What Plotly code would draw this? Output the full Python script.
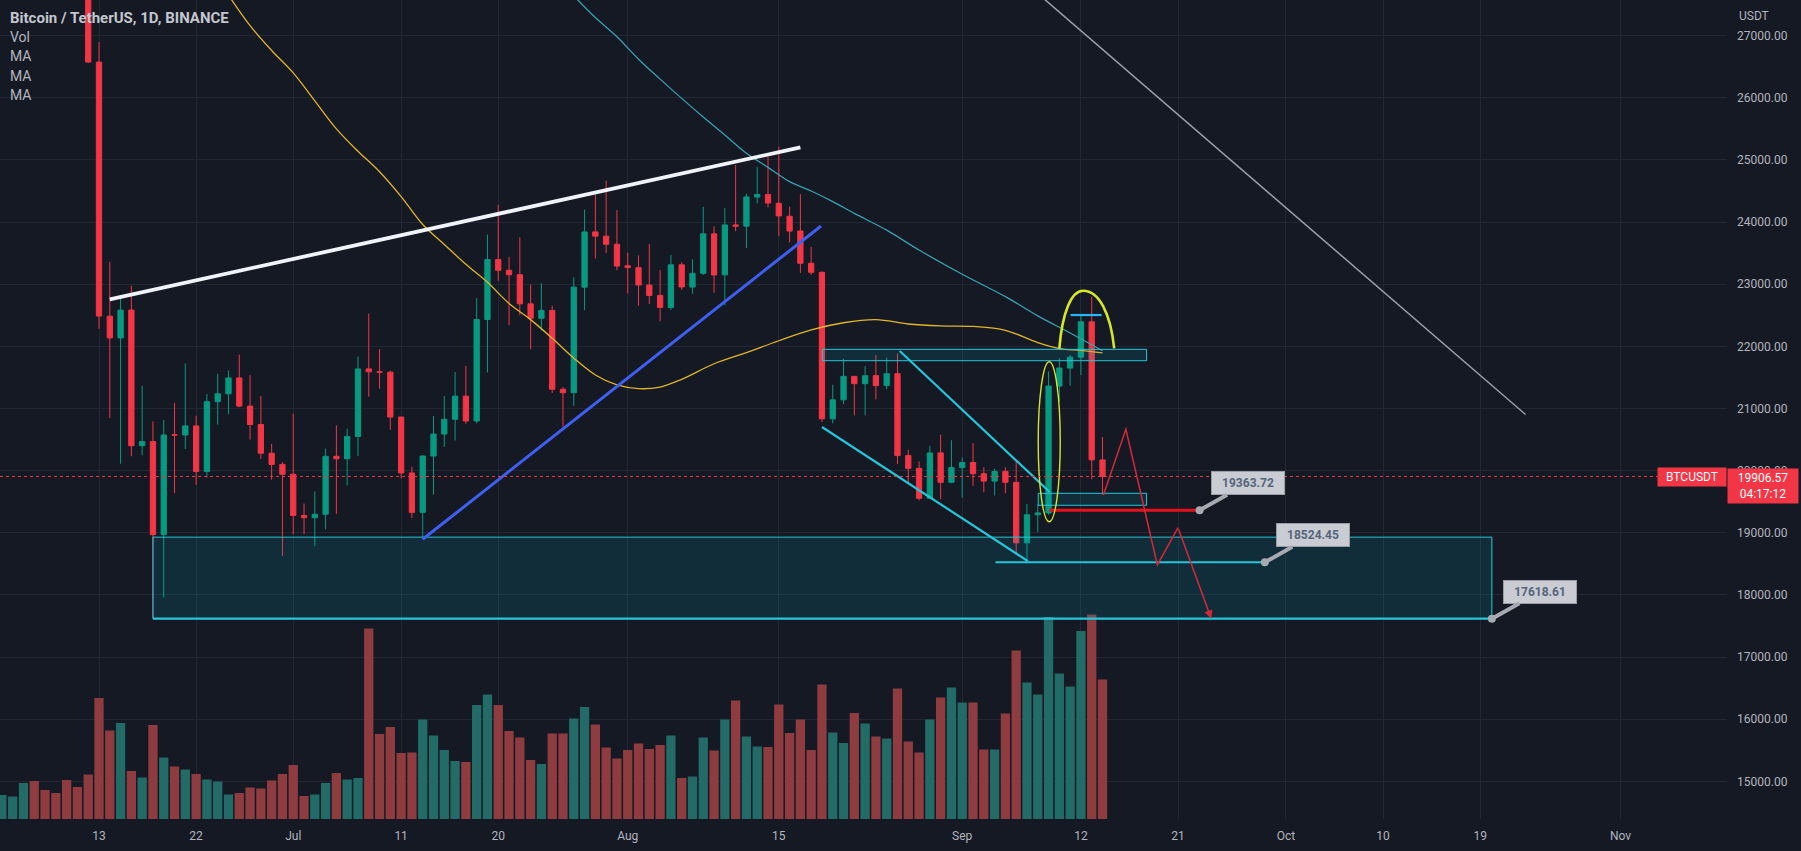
import pandas as pd
import plotly.graph_objects as go

# ---- daily candles (BTCUSDT, Binance) ----
candle_dates = pd.date_range("2022-06-12", "2022-09-14", freq="D")
opens = [28402, 26574, 22485, 22136, 22584, 20401, 20468, 18970, 20574, 20573, 20720, 19987, 21110, 21237, 21492,
         21039, 20743, 20281, 20101,
         19942, 19279, 19243, 19298, 20231, 20191, 20549, 21637, 21590, 21585, 20862, 19963, 19329, 20235, 20589,
         20826, 21198, 20799, 22432, 23396, 23224, 23153, 22684, 22451, 22578, 21310, 21254, 22952, 23842, 23773,
         23643,
         23297, 23266, 22986, 22819, 22626, 23312, 22954, 23175, 23810, 23151, 23954, 23934, 24402, 24442, 24302,
         24093, 23856, 23337, 23191, 20834, 21140, 21517, 21400, 21529, 21369, 21560, 20242, 20037, 19555, 20286,
         19813,
         20049, 20131, 19951, 19832, 19988, 19813, 18838, 19290, 19320, 21361, 21651, 21826, 22395, 20173]
highs = [28572, 26895, 23362, 22800, 22975, 21365, 20792, 20815, 21090, 21723, 20883, 21233, 21558, 21614, 21868,
         21539, 21200, 20432, 20141,
         20918, 19471, 19664, 20354, 20729, 20675, 21839, 22527, 21954, 21607, 20868, 20063, 20250, 20880, 21200,
         21588, 21684, 22777, 23800, 24276, 23442, 23757, 22998, 23014, 22654, 21347, 23113, 24199, 24442, 24668,
         24194,
         23509, 23463, 23647, 23229, 23472, 23354, 23400, 24245, 23933, 24226, 24918, 24456, 24888, 25047, 25211,
         24247, 24447, 23602, 23208, 21382, 21800, 21520, 21684, 21859, 21819, 21886, 20338, 20150, 20400, 20580,
         20490,
         20208, 20444, 20055, 20029, 20055, 20180, 19464, 19459, 21597, 21811, 21861, 22488, 22800, 20541]
lows = [26560, 22283, 20846, 20111, 20232, 20246, 17622, 17960, 19637, 20348, 19770, 19890, 20740, 20906, 21021,
        20500, 20187, 19854, 18626,
        18975, 18978, 18782, 19055, 19305, 19763, 20237, 21189, 21319, 20655, 19875, 19240, 18910, 19616, 20383,
        20484, 20754, 20762, 21581, 23052, 22341, 22500, 21951, 22258, 21250, 20706, 21042, 22582, 23414, 23502,
        23227,
        22850, 22654, 22681, 22400, 22587, 22909, 22844, 23150, 22865, 22664, 23853, 23583, 24296, 24235, 23773,
        23671, 23180, 23150, 20783, 20762, 21069, 20890, 20890, 21145, 21310, 20107, 19800, 19520, 19550, 19540,
        19797,
        19565, 19754, 19652, 19600, 19636, 18654, 18525, 19012, 19291, 21111, 21367, 21538, 19860, 19618]
closes = [26574, 22487, 22136, 22583, 20401, 20468, 18970, 20574, 20573, 20720, 19987, 21110, 21237, 21492, 21039,
          20743, 20281, 20101, 19942,
          19279, 19243, 19298, 20231, 20191, 20549, 21637, 21590, 21585, 20862, 19963, 19329, 20235, 20589, 20826,
          21198, 20799, 22432, 23396, 23224, 23153, 22684, 22451, 22579, 21310, 21254, 22952, 23842, 23773, 23643,
          23293,
          23268, 22987, 22819, 22626, 23312, 22955, 23175, 23810, 23149, 23954, 23934, 24403, 24442, 24306, 24099,
          23855, 23337, 23191, 20834, 21140, 21517, 21400, 21528, 21368, 21560, 20242, 20037, 19555, 20285, 19812,
          20050,
          20131, 19951, 19832, 19987, 19813, 18838, 19290, 19320, 21361, 21651, 21826, 22395, 20173, 19906.57]

# ---- volume (thousand BTC); the first eight candles sit above the visible price range ----
vol_dates = pd.date_range("2022-06-04", "2022-09-14", freq="D")
volumes = [48, 45, 72, 76, 58, 52, 78, 64,
           89, 242, 177, 192, 96, 83, 188, 123, 105, 99, 90, 79, 75, 49, 52, 63, 61, 77, 90,
           108, 46, 49, 72, 92, 79, 82, 381, 170, 184, 132, 133, 199, 167, 138, 116, 114, 228, 249, 228, 176, 163,
           118, 110, 171, 171, 201, 224, 189, 143, 121,
           138, 151, 140, 148, 167, 82, 85, 163, 137, 199, 237, 165, 145, 144, 229, 172, 199, 138, 269, 173, 152,
           212, 191, 165, 161, 261, 155, 133, 199, 243, 263,
           233, 233, 139, 139, 211, 337, 273, 249, 404, 291, 265, 376, 409, 279]
early_vol_up = [True, True, True, False, False, False, False, False]

# ---- moving averages ----
ma_fast_dates = ["2022-06-25", "2022-06-27", "2022-06-29", "2022-07-01", "2022-07-03", "2022-07-05", "2022-07-07",
                 "2022-07-09", "2022-07-11", "2022-07-13", "2022-07-15", "2022-07-17", "2022-07-19", "2022-07-21",
                 "2022-07-23", "2022-07-25", "2022-07-27", "2022-07-29", "2022-07-31", "2022-08-02", "2022-08-04",
                 "2022-08-06", "2022-08-09", "2022-08-12", "2022-08-15", "2022-08-18", "2022-08-21", "2022-08-24",
                 "2022-08-27", "2022-08-30", "2022-09-02", "2022-09-05", "2022-09-08", "2022-09-10", "2022-09-12",
                 "2022-09-14"]
ma_fast = [27650, 27160, 26760, 26400, 25950, 25500, 25140, 24810, 24410, 23960, 23640, 23320, 23030, 22690, 22430,
           22130, 21810, 21540, 21380, 21320, 21345, 21470, 21720, 21900, 22090, 22265, 22380, 22430, 22360, 22330,
           22320, 22259, 22060, 21965, 21935, 21894]
ma_slow_dates = ["2022-07-27", "2022-07-29", "2022-07-31", "2022-08-02", "2022-08-04", "2022-08-06", "2022-08-08",
                 "2022-08-10", "2022-08-12", "2022-08-14", "2022-08-16", "2022-08-18", "2022-08-20", "2022-08-22",
                 "2022-08-25", "2022-08-28", "2022-09-01", "2022-09-05", "2022-09-08", "2022-09-11", "2022-09-14"]
ma_slow = [27640, 27290, 26982, 26620, 26300, 25990, 25690, 25400, 25106, 24880, 24650, 24500, 24330, 24140, 23870,
           23550, 23160, 22800, 22490, 22215, 21930]

# ---- axis ticks ----
x_tick_dates = ["2022-06-13", "2022-06-22", "2022-07-01", "2022-07-11", "2022-07-20", "2022-08-01", "2022-08-15",
                "2022-09-01", "2022-09-12", "2022-09-21", "2022-10-01", "2022-10-10", "2022-10-19", "2022-11-01"]
x_tick_text = ["13", "22", "Jul", "11", "20", "Aug", "15", "Sep", "12", "21", "Oct", "10", "19", "Nov"]

# ---- drawings: (dates, prices) ----
top_trend = (["2022-06-14 00:00", "2022-08-17 00:00"], [22757, 25201])
rising_trend = (["2022-07-13 00:00", "2022-08-18 22:00"], [18896, 23937])
wedge_top = (["2022-08-26 05:00", "2022-09-09 02:00"], [21926, 19660])
wedge_bottom = (["2022-08-19 00:00", "2022-09-07 02:00"], [20702, 18545])
falling_trend = (["2022-09-01 00:00", "2022-10-23 05:00"], [28727, 20903])
zone_big = (["2022-06-18 00:00", "2022-10-20 02:00"], [17618.61, 18930])
zone_upper = (["2022-08-19 01:00", "2022-09-18 02:00"], [21769, 21952])
zone_lower = (["2022-09-08 01:00", "2022-09-18 02:00"], [19443, 19636])
level_red = (["2022-09-09 02:00", "2022-09-23 00:00"], 19363.72)
level_low = (["2022-09-04 02:00", "2022-09-29 01:00"], 18524.45)
level_base = (["2022-06-18 00:00", "2022-10-20 02:00"], 17618.61)
level_top = (["2022-09-11 01:00", "2022-09-13 22:00"], 22504)
ellipse_box = (["2022-09-08 01:00", "2022-09-10 02:00"], [19178, 21753])
arc_pts = (["2022-09-10 00:00", "2022-09-12 05:00", "2022-09-15 02:00"], [21968, 22895, 21968])
zigzag = (["2022-09-14 02:00", "2022-09-16 04:00", "2022-09-19 02:00", "2022-09-21 00:00", "2022-09-24 02:00"],
          [19608, 20665, 18484, 19082, 17618])
callouts = [("19363.72", "2022-09-23 00:00", 19363.72),
            ("18524.45", "2022-09-29 01:00", 18524.45),
            ("17618.61", "2022-10-20 02:00", 17618.61)]
last_price = 19906.57
countdown = "04:17:12"

BG = "#151924"
GRID = "#232733"
TXT = "#b2b5be"
UP = "#089981"
DOWN = "#f23645"
CYAN = "#26c6da"
LIME = "#d4e825"
FONT = "Roboto, Liberation Sans, sans-serif"
DAY_MS = 86400000

vol_up = early_vol_up + [c >= o for o, c in zip(opens, closes)]
vol_colors = ["#226b66" if u else "#8f3c41" for u in vol_up]

fig = go.Figure()
fig.add_trace(go.Bar(
    x=vol_dates, y=volumes, yaxis="y2", width=0.86 * DAY_MS,
    marker=dict(color=vol_colors, line=dict(width=0)), hoverinfo="skip", showlegend=False,
))
fig.add_trace(go.Candlestick(
    x=candle_dates, open=opens, high=highs, low=lows, close=closes,
    increasing=dict(line=dict(color=UP, width=1), fillcolor=UP),
    decreasing=dict(line=dict(color=DOWN, width=1), fillcolor=DOWN),
    whiskerwidth=0, hoverinfo="skip", showlegend=False,
))
fig.add_trace(go.Scatter(x=ma_fast_dates, y=ma_fast, mode="lines", line=dict(color="#e0b52a", width=1.3, shape="spline"),
                         hoverinfo="skip", showlegend=False))
fig.add_trace(go.Scatter(x=ma_slow_dates, y=ma_slow, mode="lines", line=dict(color="#37a2ad", width=1.3, shape="spline"),
                         hoverinfo="skip", showlegend=False))


def seg(pts, color, width, dash="solid"):
    (xa, xb), (ya, yb) = pts
    return dict(type="line", xref="x", yref="y", x0=xa, x1=xb, y0=ya, y1=yb,
                line=dict(color=color, width=width, dash=dash))


def hline(pts, color, width):
    (xa, xb), yv = pts
    return dict(type="line", xref="x", yref="y", x0=xa, x1=xb, y0=yv, y1=yv, line=dict(color=color, width=width))


def rect(pts):
    (xa, xb), (ya, yb) = pts
    return dict(type="rect", xref="x", yref="y", x0=xa, x1=xb, y0=ya, y1=yb,
                line=dict(color=CYAN, width=1), fillcolor="rgba(0,188,212,0.13)")


def pt(ts):
    return pd.Timestamp(ts).strftime("%Y-%m-%d_%H:%M:%S")


# arc through three points: two bezier pieces, fairly straight sides and a rounded top
(a0, ap, a1), (b0, bp, b1) = arc_pts
t0, tp, t1 = pd.Timestamp(a0), pd.Timestamp(ap), pd.Timestamp(a1)
arc_path = (f"M {pt(t0)},{b0} "
            f"C {pt(t0 + 0.12 * (tp - t0))},{b0 + 0.62 * (bp - b0)} {pt(tp - 0.5 * (tp - t0))},{bp} {pt(tp)},{bp} "
            f"C {pt(tp + 0.5 * (t1 - tp))},{bp} {pt(t1 - 0.12 * (t1 - tp))},{b1 + 0.62 * (bp - b1)} {pt(t1)},{b1}")

zz_x, zz_y = zigzag
zz_path = "M " + " L ".join(f"{pt(a)},{b}" for a, b in zip(zz_x[:-1], zz_y[:-1]))

shapes = [
    rect(zone_big),
    rect(zone_upper),
    rect(zone_lower),
    hline(level_base, CYAN, 2.2),
    hline(level_low, CYAN, 2),
    hline(level_top, "#29b6f6", 2.2),
    hline(level_red, "#e8121f", 3),
    seg(top_trend, "#f0f3fa", 3.8),
    seg(rising_trend, "#3f5ff0", 3),
    seg(wedge_top, CYAN, 2.2),
    seg(wedge_bottom, CYAN, 2.2),
    seg(falling_trend, "#9da0a8", 1.5),
    dict(type="circle", xref="x", yref="y", x0=ellipse_box[0][0], x1=ellipse_box[0][1],
         y0=ellipse_box[1][0], y1=ellipse_box[1][1], line=dict(color=LIME, width=1.4)),
    dict(type="path", xref="x", yref="y", path=arc_path, line=dict(color=LIME, width=2.6)),
    dict(type="path", xref="x", yref="y", path=zz_path, line=dict(color="#d62839", width=1.5)),
    dict(type="line", xref="paper", yref="y", x0=0, x1=1, y0=last_price, y1=last_price,
         line=dict(color=DOWN, width=1, dash="dot")),
]

annotations = [
    # last leg of the projected path with its arrow head
    dict(x=zz_x[-1], y=zz_y[-1], ax=zz_x[-2], ay=zz_y[-2], xref="x", yref="y", axref="x", ayref="y",
         text="", showarrow=True, arrowhead=2, arrowsize=1.1, arrowwidth=1.5, arrowcolor="#d62839"),
]
for label, cx, cy in callouts:
    annotations.append(dict(
        x=cx, y=cy, xref="x", yref="y", ax=48, ay=-27, text=f"<b>{label}</b>",
        font=dict(family=FONT, size=12, color="#56657a"), bgcolor="#c9ccd3", bordercolor="#9a9da5",
        borderwidth=1, borderpad=4, width=64, showarrow=True, arrowhead=6, arrowsize=0.5,
        arrowwidth=4, arrowcolor="#a7aab1",
    ))

legend_lines = ["<b>Bitcoin / TetherUS, 1D, BINANCE</b>", "Vol", "MA", "MA", "MA"]
for i, line in enumerate(legend_lines):
    annotations.append(dict(
        xref="paper", yref="paper", x=0, y=1, xanchor="left", yanchor="middle", xshift=8, yshift=-18 - 19.2 * i,
        text=line, showarrow=False,
        font=dict(family=FONT, size=15 if i == 0 else 14, color="#c3c6ce" if i == 0 else TXT),
    ))

annotations += [
    dict(xref="paper", yref="paper", x=1, y=1, xanchor="left", yanchor="middle", xshift=10, yshift=-16,
         text="USDT", showarrow=False, font=dict(family=FONT, size=12, color=TXT)),
    dict(xref="paper", yref="y", x=1, y=last_price, xanchor="right", yanchor="middle", yshift=-1,
         text="BTCUSDT", showarrow=False, bgcolor=DOWN, borderpad=2, width=64,
         font=dict(family=FONT, size=12, color="white")),
    dict(xref="paper", yref="y", x=1, y=last_price, xanchor="left", yanchor="top", yshift=8,
         text=f"{last_price:.2f}<br>{countdown}", showarrow=False, bgcolor=DOWN, borderpad=2, width=66,
         font=dict(family=FONT, size=12, color="white")),
]

fig.update_layout(
    width=1801, height=851,
    margin=dict(l=0, r=74, t=0, b=32),
    paper_bgcolor=BG, plot_bgcolor=BG,
    showlegend=False,
    shapes=shapes,
    annotations=annotations,
    xaxis=dict(
        type="date", range=["2022-06-03 19:48", "2022-11-10 21:00"],
        tickvals=x_tick_dates, ticktext=x_tick_text,
        showgrid=True, gridcolor=GRID, gridwidth=1, zeroline=False, showline=False, ticks="",
        ticklabelstandoff=8, tickfont=dict(family=FONT, size=12, color=TXT),
        rangeslider=dict(visible=False), fixedrange=True,
    ),
    yaxis=dict(
        side="right", range=[14395, 27573], dtick=1000, tick0=0, tickformat=".2f",
        showgrid=True, gridcolor=GRID, gridwidth=1, zeroline=False, showline=False, ticks="",
        ticklabelstandoff=9, tickfont=dict(family=FONT, size=12, color=TXT), fixedrange=True,
    ),
    yaxis2=dict(overlaying="y", range=[0, 1638], visible=False, fixedrange=True),
)

fig.write_html(
    "out.html",
    config={"displayModeBar": False},
    post_script="document.body.style.margin='0';document.body.style.overflow='hidden';",
)
